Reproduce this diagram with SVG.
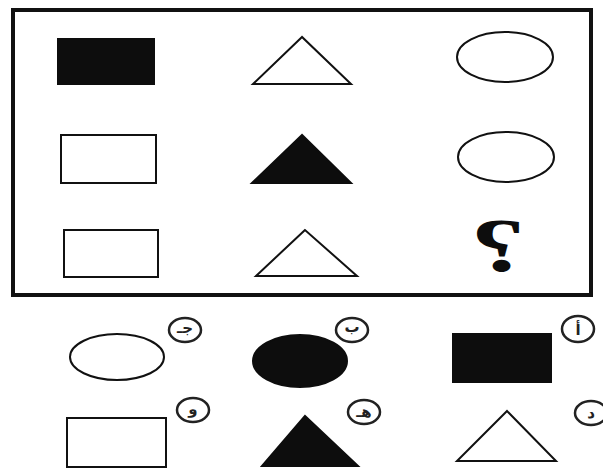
<svg xmlns="http://www.w3.org/2000/svg" width="603" height="474" viewBox="0 0 603 474">
<style>
.o{fill:#fff;stroke:#111;stroke-width:2}
.f{fill:#0d0d0d;stroke:#0d0d0d;stroke-width:2}
.lb{fill:#fff;stroke:#222;stroke-width:2.5}
.t{font-family:"DejaVu Sans","Noto Sans",sans-serif;font-size:15px;font-weight:bold;fill:#222;text-anchor:middle}
.q{font-family:"Liberation Serif",serif;font-size:76px;font-weight:bold;fill:#0d0d0d;text-anchor:middle}
</style>
<rect width="603" height="474" fill="#fff"/>
<g id="frame"><rect x="13" y="10" width="578" height="285" fill="none" stroke="#111" stroke-width="4"/></g>
<g id="r1c1"><rect class="f" x="58" y="39" width="96" height="45"/></g>
<g id="r1c2"><polygon class="o" points="302,37 253,84 351,84"/></g>
<g id="r1c3"><ellipse class="o" cx="505" cy="57" rx="48" ry="25"/></g>
<g id="r2c1"><rect class="o" x="61" y="135" width="95" height="48"/></g>
<g id="r2c2"><polygon class="f" points="302,135 252,183 351,183"/></g>
<g id="r2c3"><ellipse class="o" cx="506" cy="157" rx="48" ry="25"/></g>
<g id="r3c1"><rect class="o" x="64" y="230" width="94" height="47"/></g>
<g id="r3c2"><polygon class="o" points="305,230 256,276 357,276"/></g>
<g id="r3c3"><text class="q" transform="translate(498,271) scale(-1.45,1)" x="0" y="0">?</text></g>
<g id="optJ"><ellipse class="o" cx="117" cy="357" rx="47" ry="23"/><ellipse class="lb" cx="185" cy="330" rx="16" ry="12"/><text class="t" x="185" y="333">جـ</text></g>
<g id="optB"><ellipse class="f" cx="300" cy="361" rx="47" ry="26"/><ellipse class="lb" cx="352" cy="330" rx="16" ry="12"/><text class="t" x="352" y="332">ب</text></g>
<g id="optA"><rect class="f" x="453" y="334" width="98" height="48"/><ellipse class="lb" cx="578" cy="329" rx="16" ry="13"/><text class="t" x="578" y="335">أ</text></g>
<g id="optW"><rect class="o" x="67" y="418" width="99" height="49"/><ellipse class="lb" cx="193" cy="410" rx="16" ry="12"/><text class="t" x="193" y="414">و</text></g>
<g id="optH"><polygon class="f" points="305,416 262,466 358,466"/><ellipse class="lb" cx="364" cy="412" rx="16" ry="12"/><text class="t" x="364" y="417">هـ</text></g>
<g id="optD"><polygon class="o" points="507,411 457,461 556,461"/><ellipse class="lb" cx="591" cy="413" rx="16" ry="12"/><text class="t" x="591" y="418">د</text></g>
</svg>
